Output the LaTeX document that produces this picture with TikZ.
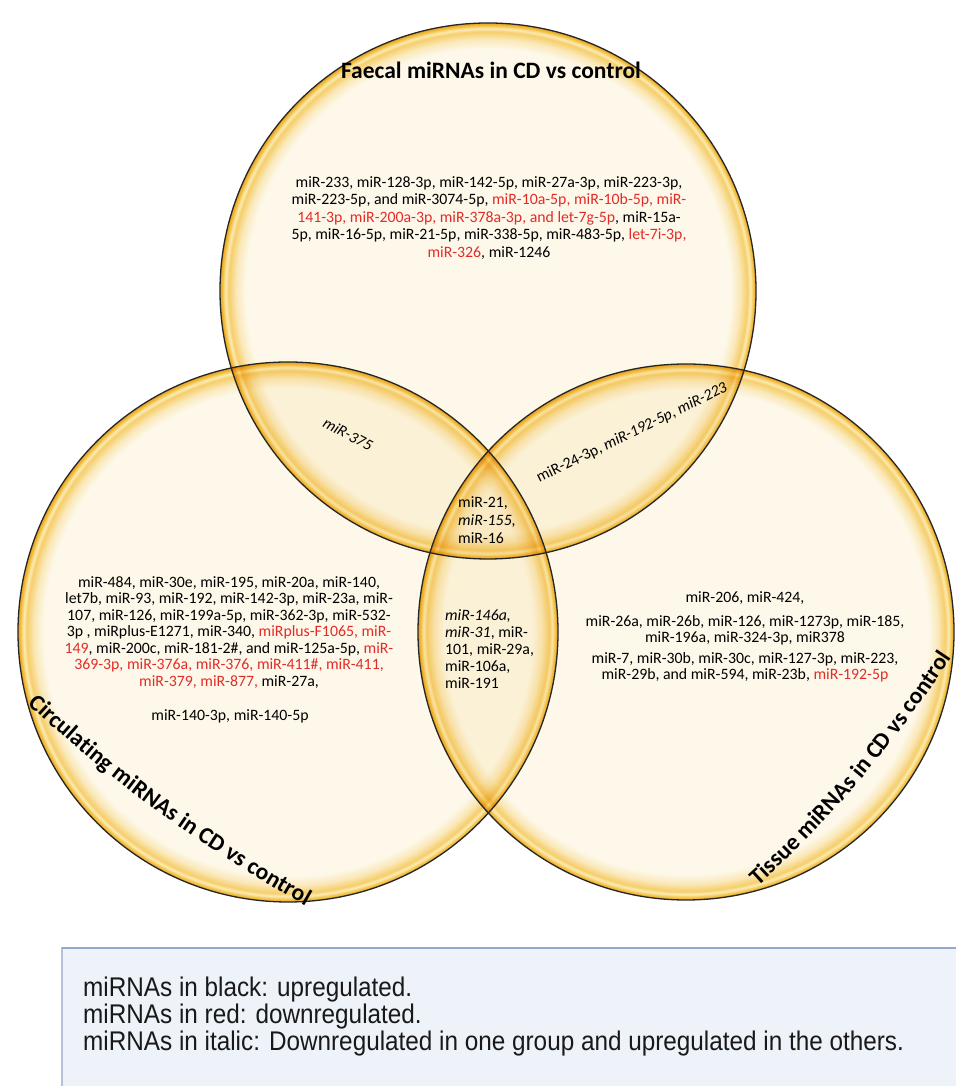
\documentclass[tikz,border=0pt]{standalone}
\usepackage{fontspec}
\setmainfont{Carlito}
\newfontfamily\legendfont[FakeStretch=0.9]{Liberation Sans}
\usepackage{tikz}
\usetikzlibrary{%
	decorations.text,%
	shadings%
}
\definecolor{vcream}{RGB}{253,248,234}
\definecolor{vgoldpale}{RGB}{250,232,184}
\definecolor{vgoldsoft}{RGB}{246,206,106}
\definecolor{vhigh}{RGB}{251,236,184}
\definecolor{vgold}{RGB}{245,196,72}
\definecolor{vgolddark}{RGB}{230,162,30}
\definecolor{downred}{RGB}{226,44,40}
\definecolor{legendfill}{RGB}{238,242,249}
\definecolor{legendrule}{RGB}{150,166,204}
\pgfdeclareradialshading{vennglow}{\pgfpoint{0bp}{0bp}}{%
	color(0bp)=(vcream); color(22.6bp)=(vcream); color(23.5bp)=(vgoldpale);
	color(24.2bp)=(vgoldsoft); color(24.48bp)=(vhigh); color(24.75bp)=(vgold);
	color(25bp)=(vgolddark); color(50bp)=(vgolddark)}
\newcommand\downr[1]{\textcolor{downred}{#1}}
\newcommand\titlefont{\fontsize{23.5}{26}\selectfont\bfseries}
\tikzstyle{glow}=[shading=vennglow, blend mode=multiply]
\tikzstyle{rim}=[draw=black!85, line width=1.3pt]
\tikzstyle{mirlist}=[align=center, inner sep=0pt, font={\fontsize{15.8}{16.5}\selectfont}]
\tikzstyle{settitle}=[inner sep=0pt, font=\titlefont]
\tikzstyle{legendbox}=[fill=legendfill, draw=legendrule!70, line width=1.5pt]
\tikzstyle{legendtext}=[anchor=west, align=left, inner sep=0pt, text=black!90, font={\fontsize{27}{27}\legendfont}]

\begin{document}
\begin{tikzpicture}[x=1pt, y=1pt]
	\useasboundingbox (0,0) rectangle (955,1086);
	\coordinate (faecal) at (488,795);
	\coordinate (circ) at (288,454);
	\coordinate (tissue) at (686,454);

	% Circles
	\foreach \set/\rad in {faecal/268, circ/270, tissue/268}
	\shade[glow] (\set) circle (\rad pt);
	\foreach \set/\rad in {faecal/268, circ/270, tissue/268}
	\draw[rim] (\set) circle (\rad pt);

	% Set titles
	\node[settitle] (faecaltitle) at (491,1016) {Faecal miRNAs in CD vs control};
	\path[decorate, decoration={text along path, text={|\titlefont|Circulating miRNAs in CD vs control}}]
		(28,382) .. controls (110,304.5) and (200.5,239) .. (316,174);
	\path[decorate, decoration={text along path, text={|\titlefont|Tissue miRNAs in CD vs control}}]
		(758,200) .. controls (835,269.7) and (901,349) .. (968,453);

	\node[mirlist, font={\fontsize{15.8}{17.5}\selectfont}] (faecallist) at (489,868) {%
		miR-233, miR-128-3p, miR-142-5p, miR-27a-3p, miR-223-3p,\\
		miR-223-5p, and miR-3074-5p, \downr{miR-10a-5p, miR-10b-5p, miR-}\\
		\downr{141-3p, miR-200a-3p, miR-378a-3p, and let-7g-5p}, miR-15a-\\
		5p, miR-16-5p, miR-21-5p, miR-338-5p, miR-483-5p, \downr{let-7i-3p,}\\
		\downr{miR-326}, miR-1246};
	\node[mirlist] (circlist) at (229,453.5) {%
		miR-484, miR-30e, miR-195, miR-20a, miR-140,\\
		let7b, miR-93, miR-192, miR-142-3p, miR-23a, miR-\\
		107, miR-126, miR-199a-5p, miR-362-3p, miR-532-\\
		3p , miRplus-E1271, miR-340, \downr{miRplus-F1065, miR-}\\
		\downr{149}, miR-200c, miR-181-2\#, and miR-125a-5p, \downr{miR-}\\
		\downr{369-3p, miR-376a, miR-376, miR-411\#, miR-411,}\\
		\downr{miR-379, miR-877,} miR-27a,};
	\node[mirlist] (circextra) at (230,370) {miR-140-3p, miR-140-5p};
	\node[mirlist] (tissuetop) at (745,488) {miR-206, miR-424,};
	\node[mirlist] (tissuemid) at (745,455.5) {miR-26a, miR-26b, miR-126, miR-1273p, miR-185,\\
		miR-196a, miR-324-3p, miR378};
	\node[mirlist] (tissuelow) at (745,418.5) {miR-7, miR-30b, miR-30c, miR-127-3p, miR-223,\\
		miR-29b, and miR-594, miR-23b, \downr{miR-192-5p}};

	% Overlaps
	\node[mirlist, rotate=-28] (faecalcirc) at (348,652) {\textit{miR-375}};
	\node[mirlist, rotate=26] (faecaltissue) at (632,653) {miR-24-3p, \textit{miR-192-5p, miR-223}};
	\node[mirlist, align=left, anchor=west, font={\fontsize{15.8}{18}\selectfont}] (allthree) at (458,566) {%
		miR-21,\\ \textit{miR-155,}\\ miR-16};
	\node[mirlist, align=left, anchor=west, font={\fontsize{15.8}{17}\selectfont}] (circtissue) at (445,437) {%
		\textit{miR-146a,}\\ \textit{miR-31}, miR-\\ 101, miR-29a,\\ miR-106a,\\ miR-191};

	% Legend
	\draw[legendbox] (62,138) rectangle (980,-20);
	\draw[legendrule, line width=2.5pt] (62,138) -- (980,138);
	\node[legendtext] (legend) at (83,69) {%
		miRNAs in black: upregulated.\\
		miRNAs in red: downregulated.\\
		miRNAs in italic: Downregulated in one group and upregulated in the others.};
\end{tikzpicture}
\end{document}
